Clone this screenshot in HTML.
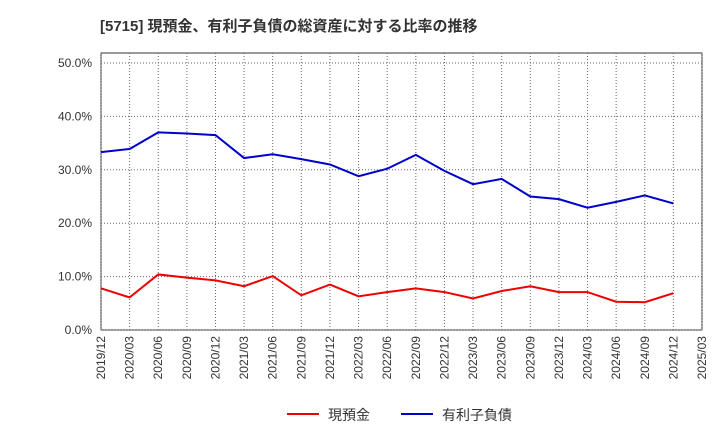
<!DOCTYPE html>
<html><head><meta charset="utf-8"><style>
body{margin:0;background:#fff;width:720px;height:440px;overflow:hidden;font-family:"Liberation Sans","Noto Sans CJK JP",sans-serif;}
</style></head><body>
<svg id="chart" width="720" height="440" xmlns="http://www.w3.org/2000/svg">
<text x="100" y="31" font-size="15" font-weight="bold" fill="#333" font-family="Liberation Sans, Noto Sans CJK JP, sans-serif">[5715]  現預金、有利子負債の総資産に対する比率の推移</text>
<rect x="101" y="53" width="601" height="277" fill="#fff" stroke="#333" stroke-width="1"/>
<g id="grid"></g><g id="yticks"></g><g id="xticks"></g><g id="series"></g>
<g>
<line x1="287" y1="414" x2="319" y2="414" stroke="#e00" stroke-width="2"/>
<text x="328" y="420" font-size="14" fill="#333">現預金</text>
<line x1="401" y1="414" x2="433" y2="414" stroke="#00c" stroke-width="2"/>
<text x="442" y="420" font-size="14" fill="#333">有利子負債</text>
</g>
</svg>
<script>
const categories=["2019/12","2020/03","2020/06","2020/09","2020/12","2021/03","2021/06","2021/09","2021/12","2022/03","2022/06","2022/09","2022/12","2023/03","2023/06","2023/09","2023/12","2024/03","2024/06","2024/09","2024/12","2025/03"];
const cashValues=[7.8,6.1,10.4,9.8,9.3,8.2,10.1,6.5,8.5,6.3,7.1,7.8,7.1,5.9,7.3,8.2,7.1,7.1,5.3,5.2,6.9];
const debtValues=[33.3,33.9,37.0,36.8,36.5,32.2,32.9,32.0,31.0,28.8,30.2,32.8,29.8,27.3,28.3,25.0,24.5,22.9,24.0,25.2,23.7];
const yTicks=[0,10,20,30,40,50];
const NS="http://www.w3.org/2000/svg";
const x0=101,x1=702,yBase=330,pxPer=5.34;
const xs=i=>x0+i*(x1-x0)/(categories.length-1);
const ys=v=>yBase-v*pxPer;
function mk(t,a,p){const e=document.createElementNS(NS,t);for(const k in a)e.setAttribute(k,a[k]);p.appendChild(e);return e;}
const grid=document.getElementById('grid'),yt=document.getElementById('yticks'),xt=document.getElementById('xticks'),se=document.getElementById('series');
yTicks.forEach(v=>{
 const l=mk('line',{x1:x0,x2:x1,y1:ys(v),y2:ys(v),stroke:'#666','stroke-dasharray':'1,2'},grid);
 
 
 const t=mk('text',{x:92,y:ys(v)+4,'font-size':12,'text-anchor':'end',fill:'#333'},yt);
 t.textContent=v.toFixed(1)+'%';
 
 
});
categories.forEach((c,i)=>{
 const x=xs(i);
 const l=mk('line',{x1:x,x2:x,y1:53,y2:330,stroke:'#666','stroke-dasharray':'1,2'},grid);
 
 
 const t=mk('text',{x:x+4,y:336,'font-size':12,'text-anchor':'end',fill:'#333',transform:`rotate(-90 ${x+4} 336)`},xt);
 t.textContent=c;
 
 
});
function line(vals,color,name){
 const p=mk('polyline',{points:vals.map((v,i)=>xs(i)+','+ys(v)).join(' '),fill:'none',stroke:color,'stroke-width':2},se);
 
 
}
line(cashValues,'#e00','cash-line');
line(debtValues,'#00c','debt-line');
</script>
</body></html>
